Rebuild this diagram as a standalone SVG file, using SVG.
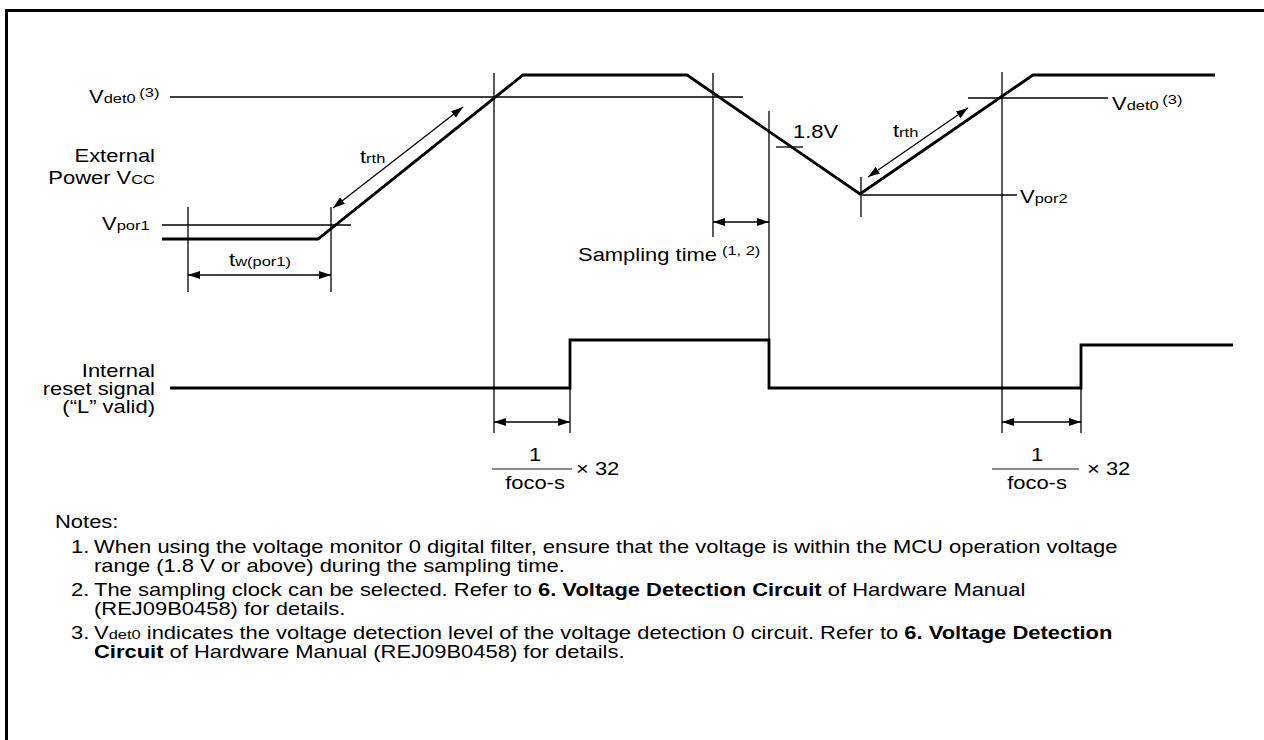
<svg xmlns="http://www.w3.org/2000/svg" width="1264" height="740" viewBox="0 0 1264 740">
<defs>
<marker id="ah" viewBox="0 0 12 8" refX="12" refY="4" markerWidth="12" markerHeight="8" markerUnits="userSpaceOnUse" orient="auto-start-reverse">
<path d="M0,0 L12,4 L0,8 Z" fill="#000"/>
</marker>
<style>
text{font-family:"Liberation Sans",Arial,sans-serif;font-size:18px;fill:#000}
.s{font-size:13.5px}
.b{font-weight:bold}
.e{text-anchor:end}
.m{text-anchor:middle}
.thin{stroke:#000;stroke-width:1.3;fill:none}
.thick{stroke:#000;stroke-width:2.8;fill:none;stroke-linejoin:miter}
.dim{stroke:#000;stroke-width:1.3;fill:none;marker-start:url(#ah);marker-end:url(#ah)}
.frac{stroke:#666;stroke-width:1.3}
</style>
</defs>
<rect width="1264" height="740" fill="#fff"/>
<path d="M6.5,740 V10.5 H1264" fill="none" stroke="#000" stroke-width="3"/>

<g id="labels-left">
<text class="e" transform="translate(155,162) scale(1.22,1)">External</text>
<text class="e" transform="translate(155,184) scale(1.22,1)">Power V<tspan class="s">CC</tspan></text>
<text class="e" transform="translate(155,377) scale(1.22,1)">Internal</text>
<text class="e" transform="translate(155,395) scale(1.22,1)">reset signal</text>
<text class="e" transform="translate(155,413) scale(1.22,1)">(“L” valid)</text>
</g>

<g id="connectors">
<line class="thin" x1="170" y1="97" x2="743" y2="97"/>
<line class="thin" x1="162" y1="225" x2="351" y2="225"/>
<line class="thin" x1="188" y1="207" x2="188" y2="292"/>
<line class="thin" x1="331" y1="207" x2="331" y2="292"/>
<line class="dim" x1="188" y1="275" x2="331" y2="275"/>
<line class="dim" x1="333" y1="208" x2="463" y2="107"/>
<line class="thin" x1="494" y1="73" x2="494" y2="433"/>
<line class="thin" x1="713" y1="73" x2="713" y2="237"/>
<line class="dim" x1="713" y1="222" x2="769" y2="222"/>
<line class="thin" x1="769" y1="111" x2="769" y2="340"/>
<line class="thin" x1="776" y1="147" x2="803" y2="147"/>
<line class="thin" x1="861" y1="177" x2="861" y2="217"/>
<line class="thin" x1="861" y1="195" x2="1017" y2="195"/>
<line class="dim" x1="868" y1="177" x2="968" y2="108"/>
<line class="thin" x1="968" y1="98" x2="1108" y2="98"/>
<line class="thin" x1="1002" y1="72" x2="1002" y2="433"/>
<line class="thin" x1="570" y1="388" x2="570" y2="433"/>
<line class="thin" x1="1081" y1="388" x2="1081" y2="433"/>
<line class="dim" x1="494" y1="422" x2="570" y2="422"/>
<line class="dim" x1="1002" y1="422" x2="1081" y2="422"/>
<path class="thick" d="M162,239 H318 L523,75 H687 L860,194 L1033,75 H1215"/>
<path class="thick" d="M170,388 H570 V340 H769 V388 H1081 V345 H1233"/>
<line class="frac" x1="492" y1="469" x2="572" y2="469"/>
<line class="frac" x1="992" y1="469" x2="1079" y2="469"/>
</g>

<g id="vdet0-left"><text transform="translate(89,103) scale(1.22,1)">V<tspan class="s">det0</tspan><tspan class="s" dx="3" dy="-6">(3)</tspan></text></g>
<g id="vpor1"><text transform="translate(102,230) scale(1.22,1)">V<tspan class="s">por1</tspan></text></g>
<g id="tw"><text class="m" transform="translate(260,266) scale(1.22,1)">t<tspan class="s">w(por1)</tspan></text></g>
<g id="trth1"><text transform="translate(360,163) scale(1.22,1)">t<tspan class="s">rth</tspan></text></g>
<g id="sampling"><text transform="translate(578,261) scale(1.22,1)">Sampling time<tspan class="s" dx="4" dy="-6">(1, 2)</tspan></text></g>
<g id="v18"><text transform="translate(793,138) scale(1.22,1)">1.8V</text></g>
<g id="trth2"><text transform="translate(893,137) scale(1.22,1)">t<tspan class="s">rth</tspan></text></g>
<g id="vpor2"><text transform="translate(1020,203) scale(1.22,1)">V<tspan class="s">por2</tspan></text></g>
<g id="vdet0-right"><text transform="translate(1112,110) scale(1.22,1)">V<tspan class="s">det0</tspan><tspan class="s" dx="3" dy="-6">(3)</tspan></text></g>
<g id="frac1">
<text class="m" transform="translate(535,461) scale(1.22,1)">1</text>
<text class="m" transform="translate(535,489) scale(1.22,1)">foco-s</text>
<text transform="translate(576,475) scale(1.22,1)">× 32</text>
</g>
<g id="frac2">
<text class="m" transform="translate(1037,461) scale(1.22,1)">1</text>
<text class="m" transform="translate(1037,489) scale(1.22,1)">foco-s</text>
<text transform="translate(1087,475) scale(1.22,1)">× 32</text>
</g>

<g id="notes">
<text transform="translate(55,528) scale(1.22,1)">Notes:</text>
<text transform="translate(71,553) scale(1.22,1)">1.</text>
<text transform="translate(94,553) scale(1.22,1)">When using the voltage monitor 0 digital filter, ensure that the voltage is within the MCU operation voltage</text>
<text transform="translate(94,572) scale(1.22,1)">range (1.8 V or above) during the sampling time.</text>
<text transform="translate(71,596) scale(1.22,1)">2.</text>
<text transform="translate(94,596) scale(1.22,1)">The sampling clock can be selected. Refer to <tspan class="b">6. Voltage Detection Circuit</tspan> of Hardware Manual</text>
<text transform="translate(94,615) scale(1.22,1)">(REJ09B0458) for details.</text>
<text transform="translate(71,639) scale(1.22,1)">3.</text>
<text transform="translate(94,639) scale(1.22,1)">V<tspan class="s">det0</tspan> indicates the voltage detection level of the voltage detection 0 circuit. Refer to <tspan class="b">6. Voltage Detection</tspan></text>
<text transform="translate(94,658) scale(1.22,1)"><tspan class="b">Circuit</tspan> of Hardware Manual (REJ09B0458) for details.</text>
</g>
</svg>
